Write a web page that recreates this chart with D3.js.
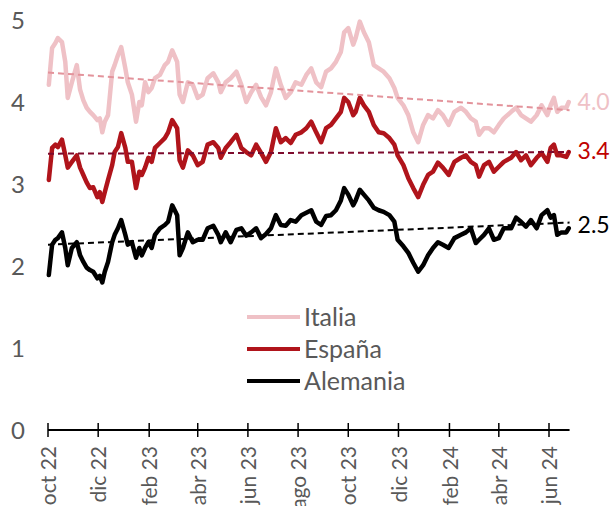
<!DOCTYPE html>
<html><head><meta charset="utf-8">
<script src="https://cdn.jsdelivr.net/npm/d3@7"></script>
<style>body{margin:0;background:#fff}svg{display:block}</style>
</head><body><svg id="c" width="614" height="506"></svg>
<script>
const dates = ["2022-10-02","2022-10-06","2022-10-10","2022-10-13","2022-10-18","2022-10-22","2022-10-25","2022-10-30","2022-11-05","2022-11-09","2022-11-13","2022-11-17","2022-11-21","2022-11-25","2022-11-30","2022-12-03","2022-12-06","2022-12-09","2022-12-13","2022-12-18","2022-12-21","2022-12-25","2022-12-29","2023-01-03","2023-01-06","2023-01-11","2023-01-16","2023-01-20","2023-01-23","2023-01-27","2023-01-31","2023-02-04","2023-02-08","2023-02-14","2023-02-20","2023-02-24","2023-03-01","2023-03-07",
"2023-03-10","2023-03-14","2023-03-20","2023-03-26","2023-04-01","2023-04-07","2023-04-13","2023-04-20","2023-04-26","2023-04-29","2023-05-05","2023-05-11","2023-05-18","2023-05-24","2023-05-30","2023-06-05","2023-06-11","2023-06-17","2023-06-23","2023-06-29","2023-07-05","2023-07-11","2023-07-17","2023-07-23","2023-07-29","2023-08-05","2023-08-11","2023-08-17",
"2023-08-23","2023-08-29","2023-09-04","2023-09-10","2023-09-16","2023-09-22","2023-09-26","2023-10-01","2023-10-07","2023-10-10","2023-10-15","2023-10-20","2023-10-26","2023-11-01","2023-11-07","2023-11-13","2023-11-20","2023-11-26","2023-11-30","2023-12-07","2023-12-13","2023-12-19","2023-12-25","2023-12-31","2024-01-06","2024-01-12","2024-01-18","2024-01-24",
"2024-01-31","2024-02-07","2024-02-15","2024-02-21","2024-02-27","2024-03-04","2024-03-08","2024-03-14","2024-03-20","2024-03-26","2024-04-01","2024-04-07","2024-04-16","2024-04-22","2024-04-28","2024-05-04","2024-05-10","2024-05-17","2024-05-23","2024-05-30","2024-06-03","2024-06-07","2024-06-11","2024-06-16","2024-06-22","2024-06-25"];

const italia = [4.21,4.66,4.72,4.78,4.73,4.49,4.05,4.24,4.45,4.15,4.02,3.93,3.88,3.84,3.78,3.80,3.63,3.76,3.84,4.37,4.45,4.57,4.67,4.41,4.24,4.09,3.76,4.00,3.96,4.24,4.12,4.17,4.29,4.33,4.45,4.49,4.63,4.49,
4.09,4.00,4.24,4.21,4.05,4.09,4.29,4.35,4.24,4.12,4.24,4.29,4.37,4.21,4.00,4.12,4.21,4.06,3.96,4.12,4.41,4.21,4.05,4.12,4.24,4.21,4.33,4.41,
4.24,4.18,4.37,4.41,4.49,4.61,4.85,4.90,4.70,4.78,4.98,4.85,4.73,4.45,4.41,4.37,4.29,4.17,4.05,3.96,3.84,3.63,3.51,3.72,3.84,3.80,3.90,3.84,
3.72,3.88,3.93,3.88,3.80,3.76,3.60,3.68,3.68,3.63,3.72,3.80,3.88,3.93,3.84,3.80,3.76,3.84,3.96,3.84,3.96,4.05,3.88,3.93,3.93,4.00];

const espana = [3.05,3.44,3.48,3.45,3.54,3.35,3.20,3.27,3.35,3.20,3.11,3.02,2.95,2.96,2.84,2.90,2.78,2.90,3.05,3.23,3.39,3.45,3.62,3.44,3.27,3.27,2.95,3.15,3.11,3.20,3.32,3.27,3.44,3.50,3.56,3.63,3.78,3.68,
3.29,3.20,3.41,3.35,3.23,3.27,3.48,3.51,3.44,3.32,3.44,3.51,3.60,3.44,3.39,3.35,3.48,3.38,3.27,3.39,3.68,3.51,3.56,3.50,3.60,3.63,3.68,3.76,
3.63,3.51,3.68,3.72,3.80,3.88,4.05,4.00,3.84,3.88,4.05,3.96,3.88,3.72,3.63,3.62,3.56,3.48,3.35,3.23,3.07,2.95,2.84,2.99,3.11,3.15,3.26,3.20,
3.11,3.27,3.32,3.35,3.27,3.23,3.09,3.23,3.27,3.15,3.21,3.27,3.32,3.39,3.29,3.35,3.23,3.32,3.38,3.27,3.44,3.48,3.35,3.35,3.33,3.39];

const alemania = [1.89,2.26,2.32,2.34,2.41,2.22,2.01,2.22,2.29,2.13,2.05,1.98,1.95,1.93,1.85,1.88,1.80,1.93,2.05,2.29,2.38,2.46,2.56,2.38,2.26,2.29,2.10,2.22,2.13,2.22,2.29,2.22,2.38,2.46,2.50,2.54,2.74,2.62,
2.13,2.22,2.41,2.29,2.32,2.32,2.46,2.49,2.38,2.29,2.41,2.29,2.44,2.46,2.37,2.41,2.46,2.34,2.39,2.46,2.62,2.50,2.49,2.56,2.54,2.62,2.65,2.68,
2.54,2.50,2.61,2.62,2.68,2.80,2.95,2.87,2.74,2.80,2.93,2.87,2.80,2.71,2.68,2.66,2.62,2.54,2.32,2.24,2.16,2.04,1.93,2.01,2.13,2.22,2.29,2.26,
2.22,2.34,2.38,2.41,2.46,2.28,2.32,2.38,2.46,2.32,2.34,2.46,2.46,2.59,2.54,2.48,2.56,2.46,2.62,2.68,2.59,2.62,2.38,2.41,2.41,2.46];

// trend lines: value at start and end of the axis
const trendDates = ["2022-10-01","2024-06-26"];
const trendItalia = [4.36, 3.90];
const trendEspana = [3.37, 3.39];
const trendAlemania = [2.26, 2.53];

const endLabels = ["4.0","3.4","2.5"];
const seriesNames = ["Italia","España","Alemania"];
const yTicks = [0,1,2,3,4,5];
const tickDates = ["2022-10-01","2022-12-01","2023-02-01","2023-04-01","2023-06-01","2023-08-01","2023-10-01","2023-12-01","2024-02-01","2024-04-01","2024-06-01"];
const tickLabels = ["oct 22","dic 22","feb 23","abr 23","jun 23","ago 23","oct 23","dic 23","feb 24","abr 24","jun 24"];

const parse = d3.timeParse("%Y-%m-%d");
const svg = d3.select("#c");
const font = "Lato, 'Open Sans', sans-serif";

const x = d3.scaleTime().domain([parse("2022-10-01"), parse("2024-06-01")]).range([48, 549]);
const y = d3.scaleLinear().domain([0,5]).range([430,20]);

const colors = {Italia:"#efc1c6", España:"#b0141b", Alemania:"#000000"};
const trendColors = {Italia:"#e3939b", España:"#7d0a2c", Alemania:"#000000"};
const endColors = {Italia:"#efc1c6", España:"#c00000", Alemania:"#000000"};

const series = [
  {name:"Italia", vals:italia, trend:trendItalia, label:endLabels[0]},
  {name:"España", vals:espana, trend:trendEspana, label:endLabels[1]},
  {name:"Alemania", vals:alemania, trend:trendAlemania, label:endLabels[2]}
];

// y labels
svg.append("g").selectAll("text").data(yTicks).join("text")
  .attr("x", 18).attr("y", d => y(d)).attr("dy","0.36em")
  .attr("text-anchor","middle").attr("font-family",font).attr("font-size",24)
  .attr("fill","#595959").text(d => d);

// x axis
const tickVals = tickDates.map(parse);
const xAxis = d3.axisBottom(x).tickValues(tickVals).tickSize(0)
  .tickFormat((d,i) => tickLabels[i]);
const gx = svg.append("g").attr("transform","translate(0,430)").call(xAxis);
gx.select(".domain").remove();
gx.append("line").attr("x1", x(parse("2022-10-01"))).attr("x2", x(parse("2024-06-26")))
  .attr("stroke","#000").attr("stroke-width",2);
gx.selectAll(".tick text")
  .attr("font-family",font).attr("font-size",21).attr("fill","#595959")
  .attr("transform","rotate(-90)").attr("text-anchor","end")
  .attr("x",-16).attr("y",0).attr("dy","0.36em");
gx.append("g").selectAll("line").data(tickVals).join("line")
  .attr("x1", d => x(d)).attr("x2", d => x(d)).attr("y1",-7).attr("y2",7)
  .attr("stroke","#000").attr("stroke-width",1.5);

// lines
const line = d3.line().x((d,i) => x(parse(dates[i]))).y(d => y(d)).curve(d3.curveLinear);
series.forEach(s => {
  svg.append("path").datum(s.vals).attr("d", line)
    .attr("fill","none").attr("stroke", colors[s.name]).attr("stroke-width",4.5)
    .attr("stroke-linejoin","round").attr("stroke-linecap","round");
});
const tline = d3.line().x((d,i) => x(parse(trendDates[i]))).y(d => y(d));
series.forEach(s => {
  svg.append("path").datum(s.trend).attr("d", tline)
    .attr("fill","none").attr("stroke", trendColors[s.name]).attr("stroke-width",2)
    .attr("stroke-dasharray","6,4");
});
// end labels
series.forEach(s => {
  svg.append("text").attr("x", x(parse(trendDates[1])) + 8).attr("y", y(+s.label))
    .attr("dy","0.36em").attr("font-family",font).attr("font-size",23)
    .attr("fill", endColors[s.name]).text(s.label);
});

// legend
const lg = svg.append("g").attr("transform","translate(247,317)");
seriesNames.forEach((n,i) => {
  lg.append("line").attr("x1",0).attr("x2",53).attr("y1",i*32).attr("y2",i*32)
    .attr("stroke",colors[n]).attr("stroke-width",4);
  lg.append("text").attr("x",57).attr("y",i*32).attr("dy","0.36em")
    .attr("font-family",font).attr("font-size",25).attr("fill","#595959").text(n);
});
</script></body></html>
